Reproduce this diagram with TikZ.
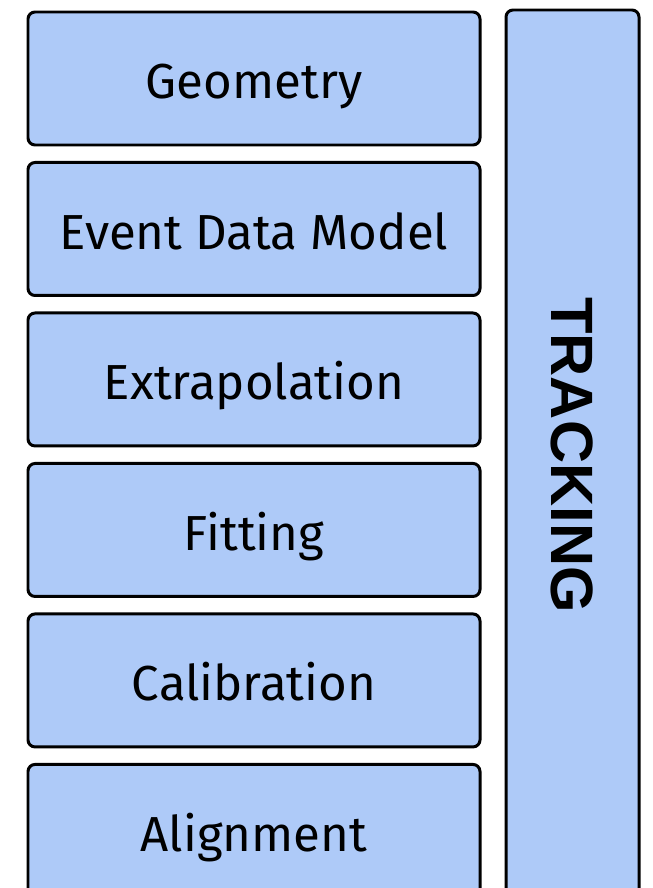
\documentclass[tikz,border=0pt]{standalone}
\usepackage{fontspec}
\setmainfont{Fira Sans}
\newfontfamily\trackfont{Liberation Sans}
\usetikzlibrary{positioning}
\definecolor{layerblue}{RGB}{174,202,248}
\tikzset{
  layer/.style={draw=black, fill=layerblue, line width=1.7pt, rounded corners=4pt,
    minimum width=9.04cm, minimum height=2.66cm, text height=0.82cm, text depth=0cm,
    font=\fontsize{28}{34}\selectfont},
  column/.style={draw=black, fill=layerblue, line width=1.7pt, rounded corners=4pt,
    minimum width=2.66cm, minimum height=17.8cm}
}
\begin{document}
\begin{tikzpicture}
  \useasboundingbox (0,0) rectangle (13.06,-17.76);
  \clip (0,0) rectangle (13.06,-17.76);
  % layers on the left
  \node[layer] (geom) at (5.08,-1.57) {Geometry};
  \node[layer, below=0.29cm of geom] (edm) {Event Data Model};
  \node[layer, below=0.29cm of edm] (extrap) {Extrapolation};
  \node[layer, below=0.29cm of extrap] (fit) {Fitting};
  \node[layer, below=0.29cm of fit] (calib) {Calibration};
  \node[layer, below=0.29cm of calib] (align) {Alignment};
  % tracking column
  \node[column] (track) at (11.45,-9.1) {};
  \node[rotate=-90, font=\trackfont\bfseries\fontsize{34}{40}\selectfont] (tracklabel) at (track.center) {TRACKING};
\end{tikzpicture}
\end{document}
